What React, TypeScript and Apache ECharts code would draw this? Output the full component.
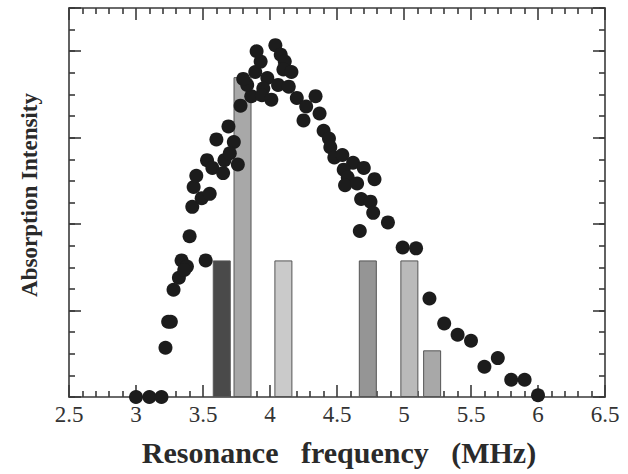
import React, { useEffect, useRef } from "react";
import * as echarts from "echarts";

// Bar (line) positions and relative intensities
const barFreq = [3.64, 3.795, 4.1, 4.73, 5.04, 5.21];
const barIntensity = [1.58, 3.7, 1.58, 1.58, 1.58, 0.54];
const barShade = ["#4a4a4a", "#a8a8a8", "#cacaca", "#959595", "#bababa", "#a8a8a8"];

// Measured absorption points
const dotFreq = [
  3.0, 3.1, 3.19, 3.22, 3.24, 3.26, 3.28, 3.32, 3.34, 3.38, 3.36, 3.4, 3.52, 3.42, 3.49, 3.55,
  3.43, 3.45, 3.53, 3.57, 3.65, 3.66, 3.6, 3.73, 3.7, 3.76, 3.69, 3.78, 3.86, 3.83, 3.8, 3.89,
  3.93, 3.9, 4.04, 4.08, 4.11, 4.1, 4.16, 3.98, 3.95, 3.94, 4.06, 4.01, 4.14, 4.2, 4.27, 4.34,
  4.37, 4.25, 4.4, 4.44, 4.45, 4.48, 4.54, 4.62, 4.7, 4.55, 4.58, 4.78, 4.56, 4.65, 4.68, 4.75,
  4.77, 4.88, 4.67, 4.99, 5.09, 5.19, 5.3, 5.4, 5.5, 5.6, 5.7, 5.8, 5.9, 6.0,
];
const dotIntensity = [
  0, 0, 0, 0.57, 0.87, 0.87, 1.24, 1.38, 1.58, 1.51, 1.47, 1.86, 1.58, 2.2, 2.3, 2.35,
  2.43, 2.56, 2.74, 2.65, 2.59, 2.74, 2.98, 2.95, 2.82, 2.69, 3.13, 3.37, 3.48, 3.61, 3.68, 3.76,
  3.88, 4.0, 4.07, 3.96, 3.88, 3.79, 3.76, 3.69, 3.57, 3.49, 3.61, 3.44, 3.59, 3.46, 3.36, 3.48,
  3.28, 3.2, 3.08, 2.99, 2.89, 2.77, 2.8, 2.71, 2.65, 2.63, 2.54, 2.52, 2.45, 2.47, 2.29, 2.26,
  2.13, 2.02, 1.92, 1.73, 1.72, 1.14, 0.85, 0.72, 0.65, 0.35, 0.45, 0.2, 0.2, 0.02,
];

const X_MIN = 2.5;
const X_MAX = 6.5;
const X_STEP = 0.5;
const Y_MIN = 0;
const Y_MAX = 4.5;

const AX = "#3a3a3a";
const SERIF = '"Liberation Serif", "Times New Roman", serif';

export default function App() {
  const ref = useRef<HTMLDivElement>(null);
  useEffect(() => {
    if (!ref.current) return;
    const chart = echarts.init(ref.current, undefined, { renderer: "svg" });
    const lineStyle = { color: AX, width: 1.6 };
    const xAx = (pos: "bottom" | "top", labels: boolean) => ({
      type: "value",
      position: pos,
      min: X_MIN,
      max: X_MAX,
      interval: X_STEP,
      axisLine: { show: true, onZero: false, lineStyle },
      axisTick: { show: true, inside: true, length: 12, lineStyle },
      minorTick: { show: true, splitNumber: 5, length: 6, lineStyle },
      splitLine: { show: false },
      minorSplitLine: { show: false },
      axisLabel: {
        show: labels,
        fontFamily: SERIF,
        fontSize: 23,
        color: "#333",
        margin: 6,
      },
    });
    const yAx = (pos: "left" | "right", interval: number, len: number, line: boolean) => ({
      type: "value",
      position: pos,
      min: Y_MIN,
      max: Y_MAX,
      interval,
      axisLine: { show: line, onZero: false, lineStyle },
      axisTick: { show: true, inside: true, length: len, lineStyle },
      splitLine: { show: false },
      axisLabel: { show: false },
    });
    chart.setOption({
      animation: false,
      backgroundColor: "#ffffff",
      grid: { left: 69, right: 23, top: 8, bottom: 77, containLabel: false },
      xAxis: [xAx("bottom", true), xAx("top", false)],
      yAxis: [
        yAx("left", 1, 12, true),
        yAx("left", 0.25, 6, false),
        yAx("right", 1, 12, true),
        yAx("right", 0.25, 6, false),
      ],
      graphic: [
        {
          type: "text",
          x: 339,
          y: 452,
          style: {
            text: "Resonance   frequency   (MHz)",
            font: `bold 30px ${SERIF}`,
            fill: "#2a2a2a",
            align: "center",
            verticalAlign: "middle",
          },
        },
        {
          type: "text",
          x: 29,
          y: 195,
          rotation: Math.PI / 2,
          style: {
            text: "Absorption Intensity",
            font: `bold 23px ${SERIF}`,
            fill: "#2a2a2a",
            align: "center",
            verticalAlign: "middle",
          },
        },
      ],
      series: [
        {
          type: "bar",
          xAxisIndex: 0,
          yAxisIndex: 0,
          barWidth: 18,
          data: barFreq.map((f, i) => ({
            value: [f, barIntensity[i]],
            itemStyle: { color: barShade[i], borderColor: "#555", borderWidth: 1 },
          })),
        },
        {
          type: "scatter",
          xAxisIndex: 0,
          yAxisIndex: 0,
          symbolSize: 14,
          clip: false,
          itemStyle: { color: "#1c1c1c", opacity: 1 },
          data: dotFreq.map((f, i) => [f, dotIntensity[i]]),
        },
      ],
    });
    return () => chart.dispose();
  }, []);
  return (
    <div
      ref={ref}
      style={{ position: "fixed", left: 0, top: 0, width: 628, height: 474, background: "#fff" }}
    />
  );
}
